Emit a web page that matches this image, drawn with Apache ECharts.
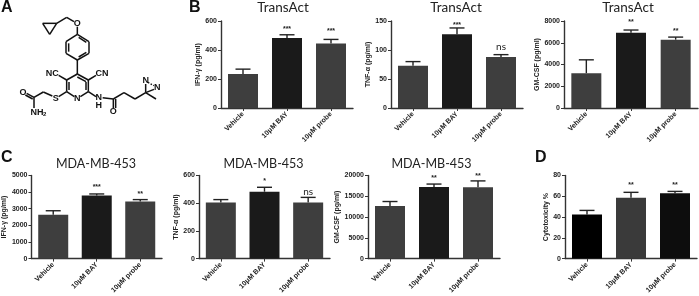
<!DOCTYPE html>
<html><head><meta charset="utf-8">
<style>html,body{margin:0;padding:0;background:#fff}#c{width:699px;height:296px}</style>
<script src="https://cdn.jsdelivr.net/npm/echarts@6/dist/echarts.min.js"></script>
</head><body><div id="c"></div>
<script>
const categories = ['Vehicle', '10μM BAY', '10μM probe'];

const transIfn = [235, 482, 445],   transIfnErr = [268, 505, 473],   transIfnSig = ['', '***', '***'], transIfnSigAt = [0, 558, 540];
const transTnf = [73, 127, 88],     transTnfErr = [80, 138, 92],     transTnfSig = ['', '***', 'ns'],  transTnfSigAt = [0, 145, 106];
const transGm  = [3200, 6920, 6280], transGmErr = [4430, 7170, 6520], transGmSig = ['', '**', '**'],   transGmSigAt = [0, 8000, 7200];
const mdaIfn = [2634, 3800, 3435],  mdaIfnErr = [2880, 3890, 3550],  mdaIfnSig = ['', '***', '**'],    mdaIfnSigAt = [0, 4410, 3970];
const mdaTnf = [405, 483, 405],     mdaTnfErr = [426, 515, 442],     mdaTnfSig = ['', '*', 'ns'],      mdaTnfSigAt = [0, 572, 483];
const mdaGm  = [12670, 17250, 17180], mdaGmErr = [13740, 17940, 18700], mdaGmSig = ['', '**', '**'],   mdaGmSigAt = [0, 19850, 20300];
const cyto = [42.4, 58.6, 62.9],    cytoErr = [46.4, 63.8, 64.7],    cytoSig = ['', '**', '**'],       cytoSigAt = [0, 72.7, 72.7];

const GREY = ['#3e3e3e', '#1a1a1a', '#3e3e3e'];
const panels = [
  {title:'TransAct', tx:283, name:'IFN-γ (pg/ml)', vals:transIfn, err:transIfnErr, sig:transIfnSig, at:transIfnSigAt, max:600, step:200, x:221, y:21, w:132, colors:GREY, nameGap:17},
  {title:'TransAct', tx:456, name:'TNF-α (pg/ml)', vals:transTnf, err:transTnfErr, sig:transTnfSig, at:transTnfSigAt, max:150, step:50, x:391, y:21, w:132, colors:GREY, nameGap:17},
  {title:'TransAct', tx:628, name:'GM-CSF (pg/ml)', vals:transGm, err:transGmErr, sig:transGmSig, at:transGmSigAt, max:8000, step:2000, x:564, y:21, w:134, colors:GREY, nameGap:21},
  {title:'MDA-MB-453', tx:96, name:'IFN-γ (pg/ml)', vals:mdaIfn, err:mdaIfnErr, sig:mdaIfnSig, at:mdaIfnSigAt, max:5000, step:1000, x:31, y:175.5, w:131, colors:GREY, nameGap:21},
  {title:'MDA-MB-453', tx:263.5, name:'TNF-α (pg/ml)', vals:mdaTnf, err:mdaTnfErr, sig:mdaTnfSig, at:mdaTnfSigAt, max:600, step:200, x:199, y:175.5, w:131, colors:GREY, nameGap:18},
  {title:'MDA-MB-453', tx:431.5, name:'GM-CSF (pg/ml)', vals:mdaGm, err:mdaGmErr, sig:mdaGmSig, at:mdaGmSigAt, max:20000, step:5000, x:368, y:175.5, w:132, colors:GREY, nameGap:19},
  {title:'', name:'Cytotoxicity %', vals:cyto, err:cytoErr, sig:cytoSig, at:cytoSigAt, max:80, step:20, x:565, y:175.5, w:132, colors:['#000','#3a3a3a','#0d0d0d'], nameGap:13}
];

const BOLD = '"Liberation Sans", Arial, sans-serif';
const grid=[], xAxis=[], yAxis=[], series=[], title=[];
panels.forEach((p,i)=>{
  grid.push({left:p.x, top:p.y, width:p.w, height:87});
  if(p.title) title.push({text:p.title, left:p.tx, top:p.y<100?1:157, textAlign:'center', padding:0,
    textStyle:{fontFamily:'Lato', fontSize:p.title==='TransAct'?13.5:12.5, fontWeight:'normal', color:'#222'}});
  xAxis.push({type:'category', gridIndex:i, data:categories,
    axisLine:{lineStyle:{color:'#333',width:1.4}},
    axisTick:{show:true,alignWithLabel:true,length:3,lineStyle:{color:'#333',width:1}},
    axisLabel:{rotate:45,interval:0,margin:5,fontFamily:BOLD,fontWeight:'bold',fontSize:7,color:'#222'}});
  yAxis.push({type:'value', gridIndex:i, min:0, max:p.max, interval:p.step, name:p.name,
    nameLocation:'middle', nameGap:p.nameGap, nameTextStyle:{fontFamily:BOLD,fontWeight:'bold',fontSize:7,color:'#222'},
    splitLine:{show:false},
    axisLine:{show:true,lineStyle:{color:'#333',width:1.4}},
    axisTick:{show:true,length:3,lineStyle:{color:'#333',width:1}},
    axisLabel:{margin:4,fontFamily:BOLD,fontWeight:'bold',fontSize:7,color:'#222',formatter:v=>String(v)}});
  series.push({type:'bar', xAxisIndex:i, yAxisIndex:i, barWidth:30, silent:true,
    data:p.vals.map((v,k)=>({value:v,itemStyle:{color:p.colors[k]}}))});
  series.push({type:'custom', xAxisIndex:i, yAxisIndex:i, clip:false, silent:true,
    data:p.vals.map((v,k)=>[k,v,p.err[k]]),
    renderItem(params,api){
      const a=api.coord([api.value(0),api.value(1)]), b=api.coord([api.value(0),api.value(2)]);
      const st={stroke:'#222',lineWidth:1.4};
      return {type:'group',children:[
        {type:'line',shape:{x1:a[0],y1:a[1],x2:b[0],y2:b[1]},style:st},
        {type:'line',shape:{x1:b[0]-7.5,y1:b[1],x2:b[0]+7.5,y2:b[1]},style:st}]};
    }});
  series.push({type:'custom', xAxisIndex:i, yAxisIndex:i, clip:false, silent:true,
    data:p.sig.map((s,k)=>[k,p.at[k]]),
    renderItem(params,api){
      const s=p.sig[params.dataIndex]; if(!s) return {type:'group',children:[]};
      const c=api.coord([api.value(0),api.value(1)]);
      const ns=s==='ns';
      return {type:'text',style:{text:s,x:c[0],y:c[1]+(ns?0:1.5),align:'center',verticalAlign:'middle',
        fill:'#222',font:ns?'normal 10px Lato':'bold 7px "Liberation Sans"'}};
    }});
});

/* Panel A: structural formula, drawn as decoration in pixel space */
const bonds=[[128,70,170,70],[170,70,149,103],[149,103,128,70],[170,70,200,52],[200,52,222,65],[232,80,232,103],
[232,103,267,125],[267,125,267,160],[267,160,232,180],[232,180,198,160],[198,160,198,125],[198,125,232,103],
[206,130,206,155],[236,112,259,127],[259,157,236,171],[232,180,232,222],
[232,222,265,240],[265,240,265,275],[265,275,241,290],[223,290,200,275],[200,275,200,240],[200,240,232,222],
[232,231,258,245],[258,246,258,270],[207,270,207,246],
[200,240,176,226],[265,240,288,226],[200,275,176,290],[157,288,130,276],[130,276,102,292],
[102,292,80,280],[98,297,76,285],[102,292,102,324],[265,275,288,290],[308,293,340,297],
[340,297,340,324],[347,297,347,324],[340,297,372,278],[372,278,405,297],[405,297,437,278],
[437,278,437,252],[437,278,462,268],[437,278,468,297]];
const graphic=bonds.map(b=>({type:'line',shape:{x1:b[0]/3,y1:b[1]/3,x2:b[2]/3,y2:b[3]/3},style:{stroke:'#111',lineWidth:1.5},silent:true}));
graphic.push({type:'line',shape:{x1:444/3,y1:247/3,x2:462/3,y2:257/3},style:{stroke:'#111',lineWidth:1.4,lineDash:[1.5,1.5]},silent:true});
const atoms=[['O',232,71],['NC',157,222],['CN',306,222],['S',167,296],['N',232,297],['O',69,278],['N',296,294],['H',296,318],['O',340,336],['N',437,243],['N',472,262],['NH',111,337]];
atoms.forEach(t=>graphic.push({type:'text',x:t[1]/3,y:t[2]/3,silent:true,style:{text:t[0],align:'center',verticalAlign:'middle',fill:'#111',font:'bold 9px "Liberation Sans"'}}));
graphic.push({type:'text',x:134/3,y:344/3,silent:true,style:{text:'2',align:'center',verticalAlign:'middle',fill:'#111',font:'bold 6px "Liberation Sans"'}});
[['A',1,8],['B',189,8],['C',1,158],['D',535,158]].forEach(t=>graphic.push({type:'text',x:t[1],y:t[2],silent:true,style:{text:t[0],align:'left',verticalAlign:'middle',fill:'#111',font:'bold 16px "Liberation Sans"'}}));

const chart=echarts.init(document.getElementById('c'),null,{renderer:'canvas'});
chart.setOption({animation:false,backgroundColor:'#fff',title,grid,xAxis,yAxis,series,graphic});
</script></body></html>
